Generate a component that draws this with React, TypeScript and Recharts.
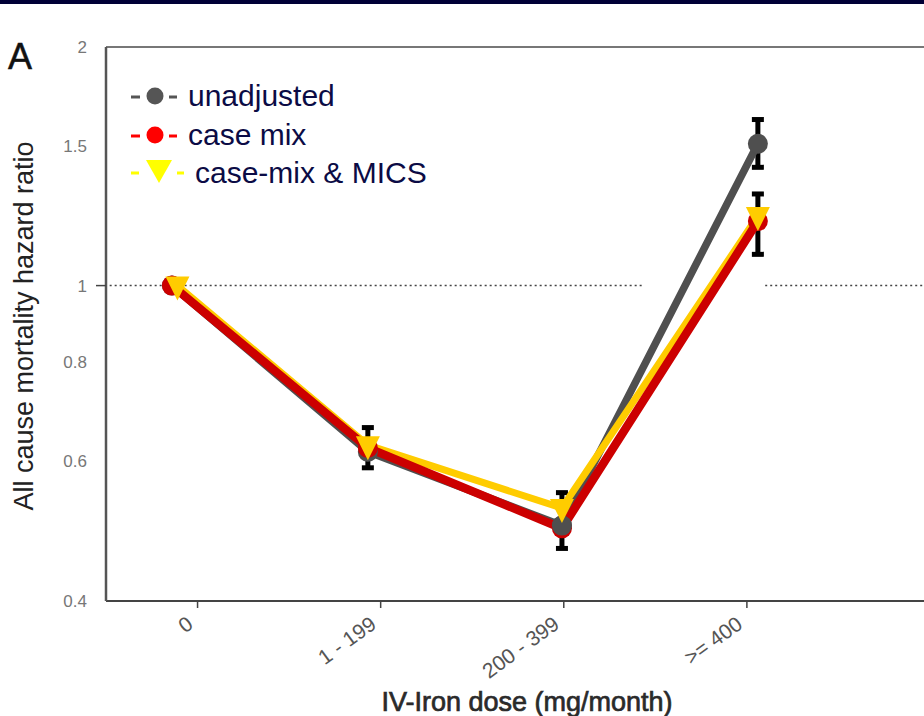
import { LineChart, Line, XAxis, YAxis, ErrorBar, ReferenceLine } from "recharts";

// dose groups (x axis)
const categories = ["0", "1 - 199", "200 - 399", ">= 400"];
const pointX = [-0.14, 0.93, 1.99, 3.06];
const micsX = [-0.11, 0.93, 1.99, 3.06];

// hazard ratios
const unadjusted = [1.0, 0.617, 0.498, 1.51];
const unadjustedLow = [1.0, 0.589, 0.466, 1.41];
const unadjustedHigh = [1.0, 0.662, 0.548, 1.62];

const caseMix = [1.0, 0.624, 0.494, 1.206];
const caseMixLow = [1.0, 0.624, 0.494, 1.095];
const caseMixHigh = [1.0, 0.624, 0.494, 1.305];

const caseMixMics = [1.0, 0.629, 0.524, 1.224];

const yTicks = [0.4, 0.6, 0.8, 1, 1.5, 2];
const seriesNames = ["unadjusted", "case mix", "case-mix & MICS"];

const FONT = "'Liberation Sans', Arial, sans-serif";
const GRAY = "#4f4f4f";
const RED = "#cc0000";
const YELLOW = "#ffcc00";

const withErr = (xs: number[], vals: number[], lo?: number[], hi?: number[]) =>
  vals.map((v, i) => ({
    x: xs[i],
    v,
    err: lo && hi ? [v - lo[i], hi[i] - v] : [0, 0],
  }));

const grayRows = withErr(pointX, unadjusted, unadjustedLow, unadjustedHigh);
const redRows = withErr(pointX, caseMix, caseMixLow, caseMixHigh);
const yellowRows = withErr(micsX, caseMixMics);

const Triangle = (props: any) => {
  const { cx, cy, index } = props;
  if (cx == null || cy == null) return null;
  return (
    <path
      key={`tri-${index}`}
      d={`M${cx - 12},${cy - 9} L${cx + 12},${cy - 9} L${cx},${cy + 15} Z`}
      fill={YELLOW}
    />
  );
};

// the unadjusted marker sits on top of the red one at 200-399
const GrayTopDot = (props: any) => {
  const { cx, cy, index } = props;
  if (cx == null || cy == null || index !== 2) return <g key={`gt-${index}`} />;
  return <circle key={`gt-${index}`} cx={cx} cy={cy} r={10} fill={GRAY} />;
};

const YTick = (props: any) => {
  const { x, y, payload } = props;
  return (
    <g>
      {payload.value === 1 && (
        <line x1={x + 9} x2={x + 19} y1={y} y2={y} stroke="#444" strokeWidth={1.5} />
      )}
      <text x={x} y={y} dy={6} textAnchor="end" fontSize={17} fill="#777" fontFamily={FONT}>
        {payload.value}
      </text>
    </g>
  );
};

const XTick = (props: any) => {
  const { x, y, payload } = props;
  const ax = x - 3;
  const ay = y + 17;
  return (
    <text
      x={ax}
      y={ay}
      transform={`rotate(-36 ${ax} ${ay})`}
      textAnchor="end"
      fontSize={21}
      fill="#555"
      fontFamily={FONT}
    >
      {categories[payload.value]}
    </text>
  );
};

export default function App() {
  return (
    <div
      style={{
        position: "absolute",
        left: 0,
        top: 0,
        width: 924,
        height: 716,
        overflow: "hidden",
        background: "#fff",
        fontFamily: FONT,
      }}
    >
      <div style={{ position: "absolute", left: 0, top: 0, width: 924, height: 4, background: "#000036" }} />
      <LineChart width={940} height={716} margin={{ top: 47, right: 10, bottom: 0, left: 0 }}>
        <XAxis
          dataKey="x"
          type="number"
          domain={[-0.5, 4]}
          ticks={[0, 1, 2, 3]}
          allowDataOverflow
          height={115}
          axisLine={{ stroke: "#444", strokeWidth: 2 }}
          tickLine={{ stroke: "#444", strokeWidth: 1.5 }}
          tickSize={7}
          tick={<XTick />}
        />
        <YAxis
          type="number"
          scale="log"
          domain={[0.4, 2]}
          ticks={yTicks}
          allowDataOverflow
          width={106}
          axisLine={{ stroke: "#555", strokeWidth: 2.5 }}
          tickLine={false}
          tickSize={10}
          tickMargin={9}
          tick={<YTick />}
        />
        <ReferenceLine y={2} stroke="#777" strokeWidth={2} />
        <ReferenceLine
          segment={[{ x: -0.48, y: 1 }, { x: 2.43, y: 1 }]}
          stroke="#444"
          strokeDasharray="2 3"
          strokeWidth={1.5}
        />
        <ReferenceLine
          segment={[{ x: 3.1, y: 1 }, { x: 4, y: 1 }]}
          stroke="#444"
          strokeDasharray="2 3"
          strokeWidth={1.5}
        />
        <Line
          data={grayRows}
          dataKey="v"
          stroke={GRAY}
          strokeWidth={7.5}
          dot={{ r: 10, fill: GRAY, stroke: "none" }}
          activeDot={false}
          isAnimationActive={false}
        >
          <ErrorBar dataKey="err" direction="y" stroke="#000" strokeWidth={5} width={6} />
        </Line>
        <Line
          data={yellowRows}
          dataKey="v"
          stroke={YELLOW}
          strokeWidth={7}
          dot={false}
          activeDot={false}
          isAnimationActive={false}
        />
        <Line
          data={redRows}
          dataKey="v"
          stroke={RED}
          strokeWidth={8.5}
          dot={{ r: 10, fill: RED, stroke: "none" }}
          activeDot={false}
          isAnimationActive={false}
        >
          <ErrorBar dataKey="err" direction="y" stroke="#000" strokeWidth={5} width={6} />
        </Line>
        <Line
          data={grayRows}
          dataKey="v"
          stroke="none"
          dot={<GrayTopDot />}
          activeDot={false}
          isAnimationActive={false}
        />
        <Line
          data={yellowRows}
          dataKey="v"
          stroke="none"
          dot={<Triangle />}
          activeDot={false}
          isAnimationActive={false}
        />
      </LineChart>
      <svg
        width={924}
        height={716}
        style={{ position: "absolute", left: 0, top: 0, pointerEvents: "none" }}
        fontFamily={FONT}
      >
        <text x={8} y={69} fontSize={36} fill="#111" stroke="#111" strokeWidth={0.5}>A</text>
        <text
          x={33}
          y={326}
          transform="rotate(-90 33 326)"
          textAnchor="middle"
          fontSize={27}
          fill="#222"
        >
          All cause mortality hazard ratio
        </text>
        <text
          x={527}
          y={711}
          textAnchor="middle"
          fontSize={27}
          fill="#2a2a2a"
          stroke="#2a2a2a"
          strokeWidth={0.7}
        >
          IV-Iron dose (mg/month)
        </text>

        {/* legend */}
        <line x1={131} x2={140} y1={97} y2={97} stroke="#555" strokeWidth={3} />
        <circle cx={155} cy={96} r={8.5} fill="#555" />
        <line x1={169} x2={177} y1={97} y2={97} stroke="#555" strokeWidth={3} />
        <text x={188} y={106} fontSize={30} fill="#0b0b45">{seriesNames[0]}</text>

        <line x1={131} x2={140} y1={136} y2={136} stroke="#ff0000" strokeWidth={3} />
        <circle cx={155} cy={135} r={8.5} fill="#ff0000" />
        <line x1={169} x2={177} y1={136} y2={136} stroke="#ff0000" strokeWidth={3} />
        <text x={188} y={145} fontSize={30} fill="#0b0b45">{seriesNames[1]}</text>

        <line x1={131} x2={139} y1={173} y2={173} stroke="#ffff00" strokeWidth={3} />
        <path d="M146,160 L172,160 L159,183 Z" fill="#ffff00" />
        <line x1={177} x2={184} y1={173} y2={173} stroke="#ffff00" strokeWidth={3} />
        <text x={195} y={183} fontSize={30} fill="#0b0b45">{seriesNames[2]}</text>
      </svg>
    </div>
  );
}
